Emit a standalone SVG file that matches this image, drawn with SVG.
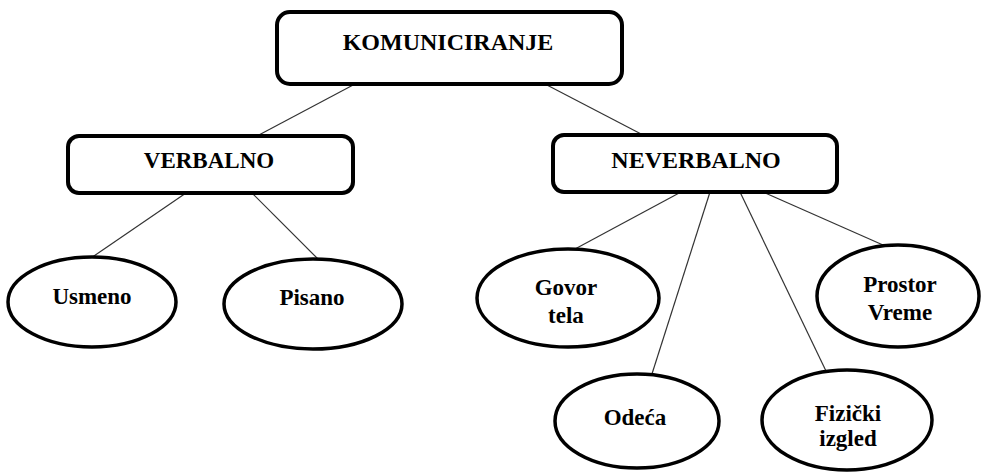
<svg xmlns="http://www.w3.org/2000/svg" width="981" height="475" viewBox="0 0 981 475">
<style>
.box{fill:#fff;stroke:#000;stroke-width:4}
.ell{fill:#fff;stroke:#000;stroke-width:3.5}
.edge{stroke:#333;stroke-width:1.2;fill:none}
.lbl{font-family:'Liberation Serif','DejaVu Serif',serif;font-weight:bold;fill:#000;text-anchor:middle}
.t1{font-size:24px}
.t2{font-size:23px}
</style>
<rect width="981" height="475" fill="#fff"/>
<g id="connectors">
<line class="edge" x1="355" y1="84" x2="257" y2="136"/>
<line class="edge" x1="545" y1="84" x2="643" y2="135"/>
<line class="edge" x1="186" y1="193" x2="91" y2="258"/>
<line class="edge" x1="252" y1="193" x2="319" y2="260"/>
<line class="edge" x1="681" y1="192" x2="575" y2="249"/>
<line class="edge" x1="710" y1="192" x2="651" y2="377"/>
<line class="edge" x1="740" y1="192" x2="826" y2="371"/>
<line class="edge" x1="763" y1="192" x2="883" y2="245"/>
</g>
<g id="komuniciranje">
<rect class="box" x="277" y="12" width="345" height="72" rx="13"/>
<text class="lbl t1" x="448" y="50" font-family="Liberation Serif, serif">KOMUNICIRANJE</text>
</g>
<g id="verbalno">
<rect class="box" x="68" y="136" width="285" height="57" rx="11"/>
<text class="lbl t2" x="209" y="168" font-family="Liberation Serif, serif">VERBALNO</text>
</g>
<g id="neverbalno">
<rect class="box" x="553" y="135" width="284" height="57" rx="11"/>
<text class="lbl t1" x="696" y="168" font-family="Liberation Serif, serif">NEVERBALNO</text>
</g>
<g id="usmeno">
<ellipse class="ell" cx="92" cy="302" rx="84" ry="45"/>
<text class="lbl t2" x="92" y="304" font-family="Liberation Serif, serif">Usmeno</text>
</g>
<g id="pisano">
<ellipse class="ell" cx="313" cy="304" rx="89" ry="45"/>
<text class="lbl t2" x="312" y="305" font-family="Liberation Serif, serif">Pisano</text>
</g>
<g id="govor-tela">
<ellipse class="ell" cx="568" cy="298" rx="91" ry="49"/>
<text class="lbl t2" x="566" y="295" font-family="Liberation Serif, serif">Govor</text>
<text class="lbl t2" x="566" y="323" font-family="Liberation Serif, serif">tela</text>
</g>
<g id="prostor-vreme">
<ellipse class="ell" cx="898" cy="296" rx="81" ry="51"/>
<text class="lbl t2" x="900" y="292" font-family="Liberation Serif, serif">Prostor</text>
<text class="lbl t2" x="900" y="320" font-family="Liberation Serif, serif">Vreme</text>
</g>
<g id="odeca">
<ellipse class="ell" cx="637" cy="421" rx="82" ry="47"/>
<text class="lbl t2" x="635" y="425" font-family="Liberation Serif, serif">Odeća</text>
</g>
<g id="fizicki-izgled">
<ellipse class="ell" cx="847" cy="420" rx="85" ry="50"/>
<text class="lbl t2" x="848" y="421" font-family="Liberation Serif, serif">Fizički</text>
<text class="lbl t2" x="848" y="446" font-family="Liberation Serif, serif">izgled</text>
</g>
</svg>
